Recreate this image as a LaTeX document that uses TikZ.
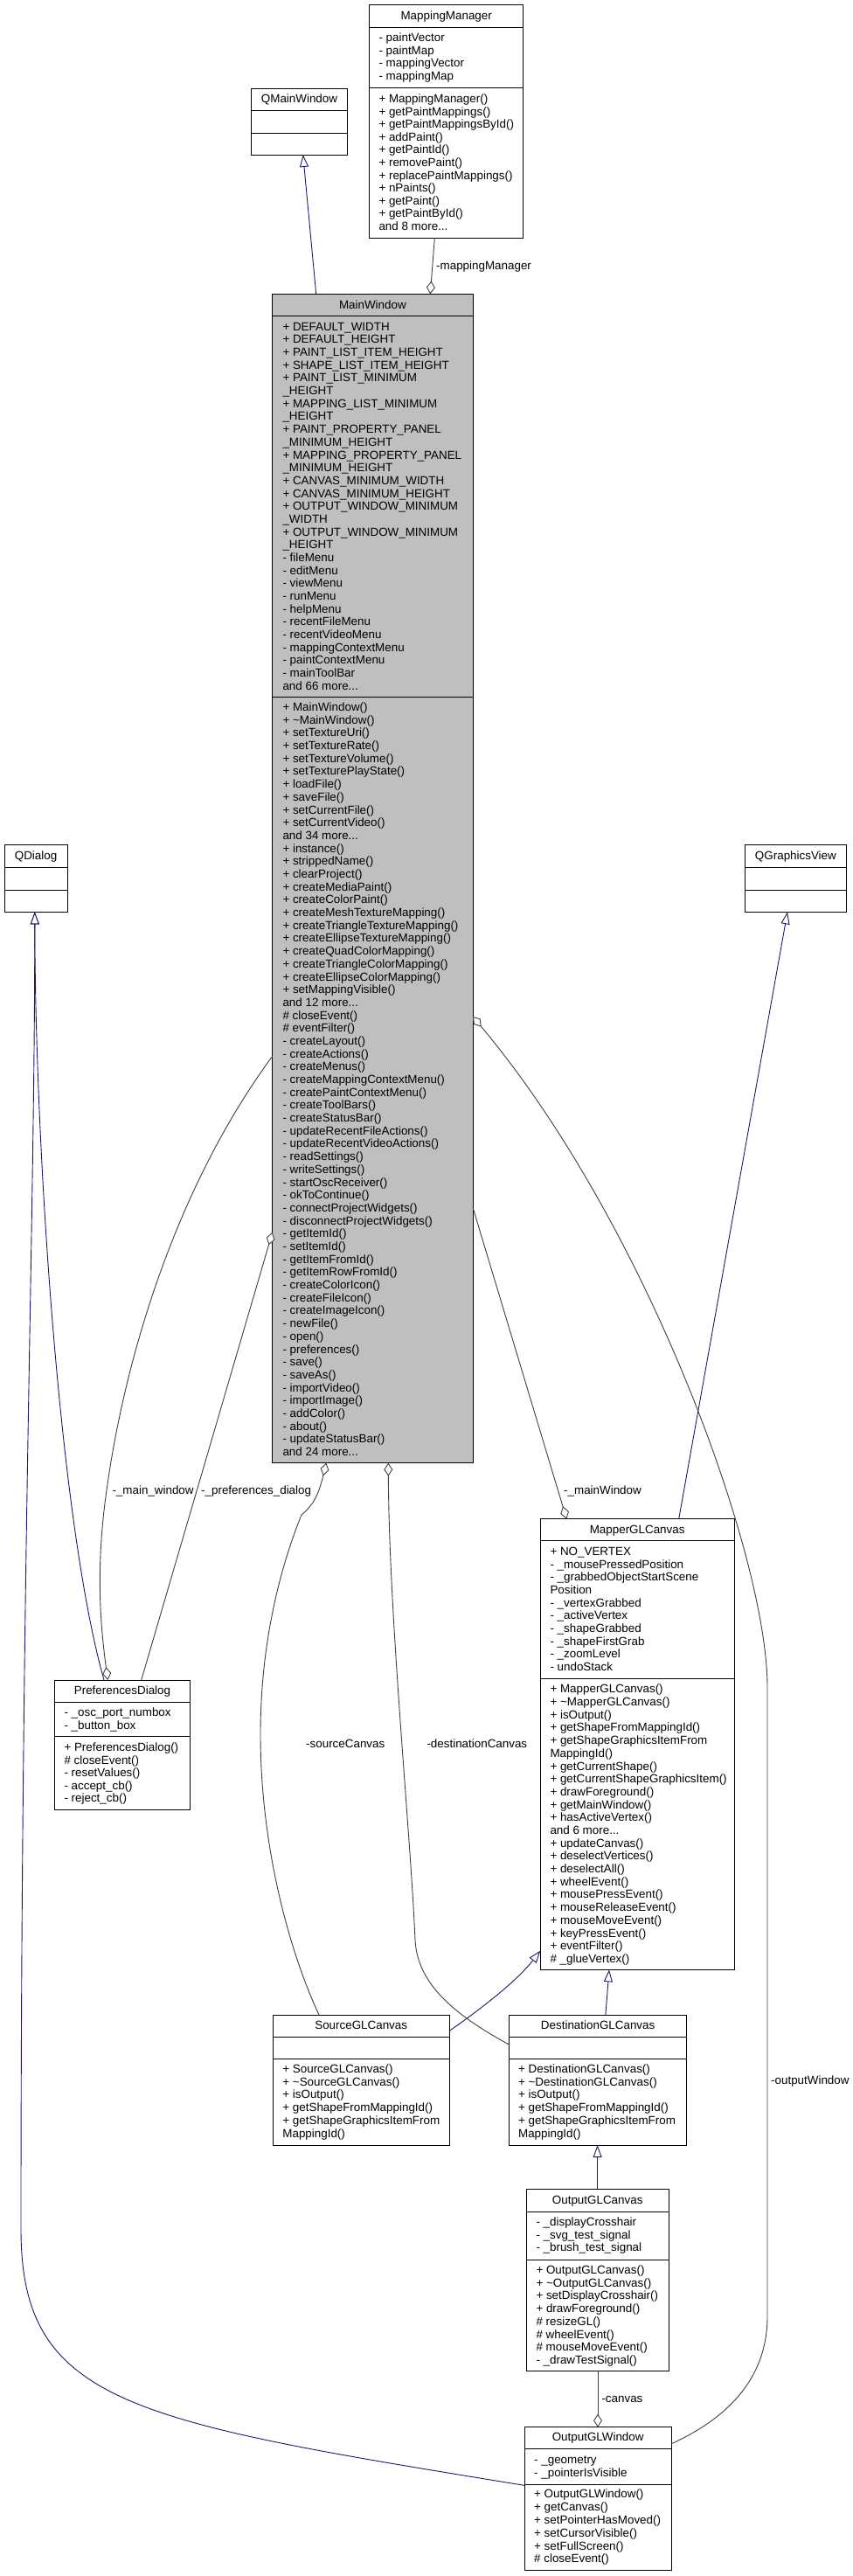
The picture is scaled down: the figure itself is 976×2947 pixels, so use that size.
\documentclass[tikz,border=0pt]{standalone}
\usepackage{fontspec}
\setmainfont{Liberation Sans}
\usetikzlibrary{arrows.meta}
\definecolor{aggc}{HTML}{404040}
\definecolor{inhc}{HTML}{191970}
\definecolor{mainfill}{HTML}{BFBFBF}
\newcommand{\memfont}{\fontsize{13.4}{15}\selectfont}
\newcommand{\mdots}{...}
\tikzset{
 cls/.style={draw=black, line width=1pt, fill=white, inner sep=0pt, outer sep=0pt},
 clsline/.style={draw=black, line width=1pt},
 ttl/.style={anchor=base, inner sep=0pt, font=\memfont},
 mem/.style={anchor=base west, inner sep=0pt, font=\memfont},
 lbl/.style={anchor=base west, inner sep=0pt, font=\memfont},
 agg/.style={draw=aggc, line width=0.9pt, -{Diamond[fill=white, length=15pt, width=10pt]}},
 inh/.style={draw=inhc, line width=0.9pt, -{Triangle[fill=white, length=14pt, width=10pt]}},
}
\newcommand{\umlbox}[8]{%
 \node[cls,#8, minimum width={#4-#2}, minimum height={#7-#3}, anchor=north west] (#1) at (#2,#3) {};
 \draw[clsline] ([yshift={#3-#5}]#1.north west) -- ([yshift={#3-#5}]#1.north east);
 \draw[clsline] ([yshift={#3-#6}]#1.north west) -- ([yshift={#3-#6}]#1.north east);}
\newcommand{\mlist}[5]{\foreach \mitem [count=\mi from 0] in {#5}{\node[mem] (#1-\mi) at (#2,#3+\mi*#4) {\mitem};}}
\begin{document}
\begin{tikzpicture}[x=1pt,y=-1pt]
\fill[white] (0,0) rectangle (976,2947);
\useasboundingbox (0,0) rectangle (976,2947);

% ---------- boxes ----------
\umlbox{mm}{422.7}{5.7}{598.7}{31.7}{100.3}{272.3}{}
\node[ttl] (mm-t) at (510.7,22.5) {MappingManager};
\mlist{mm-a}{433.3}{47.3}{14.75}{- paintVector, - paintMap, - mappingVector, - mappingMap}
\mlist{mm-o}{433.3}{117.6}{14.57}{+ MappingManager(), + getPaintMappings(), + getPaintMappingsById(), + addPaint(), + getPaintId(), + removePaint(), + replacePaintMappings(), + nPaints(), + getPaint(), + getPaintById(), and 8 more\mdots}

\umlbox{qmw}{287.3}{101.3}{397.7}{126.7}{152}{177}{}
\node[ttl] (qmw-t) at (342.5,117.3) {QMainWindow};

\umlbox{mw}{311.7}{336.4}{541}{361.4}{797.9}{1673.7}{fill=mainfill}
\node[ttl] (mw-t) at (426.35,353.2) {MainWindow};
\mlist{mw-a}{323.3}{378.2}{14.68}{%
+ DEFAULT\_WIDTH,
+ DEFAULT\_HEIGHT,
+ PAINT\_LIST\_ITEM\_HEIGHT,
+ SHAPE\_LIST\_ITEM\_HEIGHT,
+ PAINT\_LIST\_MINIMUM,
\_HEIGHT,
+ MAPPING\_LIST\_MINIMUM,
\_HEIGHT,
+ PAINT\_PROPERTY\_PANEL,
\_MINIMUM\_HEIGHT,
+ MAPPING\_PROPERTY\_PANEL,
\_MINIMUM\_HEIGHT,
+ CANVAS\_MINIMUM\_WIDTH,
+ CANVAS\_MINIMUM\_HEIGHT,
+ OUTPUT\_WINDOW\_MINIMUM,
\_WIDTH,
+ OUTPUT\_WINDOW\_MINIMUM,
\_HEIGHT,
- fileMenu,
- editMenu,
- viewMenu,
- runMenu,
- helpMenu,
- recentFileMenu,
- recentVideoMenu,
- mappingContextMenu,
- paintContextMenu,
- mainToolBar,
and 66 more\mdots}
\mlist{mw-o}{323.3}{813.5}{14.69}{%
+ MainWindow(),
+ \textasciitilde{}MainWindow(),
+ setTextureUri(),
+ setTextureRate(),
+ setTextureVolume(),
+ setTexturePlayState(),
+ loadFile(),
+ saveFile(),
+ setCurrentFile(),
+ setCurrentVideo(),
and 34 more\mdots,
+ instance(),
+ strippedName(),
+ clearProject(),
+ createMediaPaint(),
+ createColorPaint(),
+ createMeshTextureMapping(),
+ createTriangleTextureMapping(),
+ createEllipseTextureMapping(),
+ createQuadColorMapping(),
+ createTriangleColorMapping(),
+ createEllipseColorMapping(),
+ setMappingVisible(),
and 12 more\mdots,
\# closeEvent(),
\# eventFilter(),
- createLayout(),
- createActions(),
- createMenus(),
- createMappingContextMenu(),
- createPaintContextMenu(),
- createToolBars(),
- createStatusBar(),
- updateRecentFileActions(),
- updateRecentVideoActions(),
- readSettings(),
- writeSettings(),
- startOscReceiver(),
- okToContinue(),
- connectProjectWidgets(),
- disconnectProjectWidgets(),
- getItemId(),
- setItemId(),
- getItemFromId(),
- getItemRowFromId(),
- createColorIcon(),
- createFileIcon(),
- createImageIcon(),
- newFile(),
- open(),
- preferences(),
- save(),
- saveAs(),
- importVideo(),
- importImage(),
- addColor(),
- about(),
- updateStatusBar(),
and 24 more\mdots}

\umlbox{qd}{5}{966.7}{77.2}{992.7}{1018}{1043.3}{}
\node[ttl] (qd-t) at (41.1,983.6) {QDialog};

\umlbox{qgv}{852.5}{966.7}{968.3}{992.7}{1018}{1043.3}{}
\node[ttl] (qgv-t) at (910.4,983.6) {QGraphicsView};

\umlbox{pd}{62.7}{1922}{217.3}{1947.4}{1986.7}{2070.3}{}
\node[ttl] (pd-t) at (140,1938.7) {PreferencesDialog};
\mlist{pd-a}{73.3}{1963.6}{14.5}{- \_osc\_port\_numbox, - \_button\_box}
\mlist{pd-o}{73.3}{2003.6}{14.5}{+ PreferencesDialog(), \# closeEvent(), - resetValues(), - accept\_cb(), - reject\_cb()}

\umlbox{mgc}{618.3}{1737.7}{840}{1762.7}{1920.7}{2253.3}{}
\node[ttl] (mgc-t) at (729.15,1754.6) {MapperGLCanvas};
\mlist{mgc-a}{629.3}{1779.6}{14.63}{%
+ NO\_VERTEX,
- \_mousePressedPosition,
- \_grabbedObjectStartScene,
Position,
- \_vertexGrabbed,
- \_activeVertex,
- \_shapeGrabbed,
- \_shapeFirstGrab,
- \_zoomLevel,
- undoStack}
\mlist{mgc-o}{629.3}{1936.9}{14.69}{%
+ MapperGLCanvas(),
+ \textasciitilde{}MapperGLCanvas(),
+ isOutput(),
+ getShapeFromMappingId(),
+ getShapeGraphicsItemFrom,
MappingId(),
+ getCurrentShape(),
+ getCurrentShapeGraphicsItem(),
+ drawForeground(),
+ getMainWindow(),
+ hasActiveVertex(),
and 6 more\mdots,
+ updateCanvas(),
+ deselectVertices(),
+ deselectAll(),
+ wheelEvent(),
+ mousePressEvent(),
+ mouseReleaseEvent(),
+ mouseMoveEvent(),
+ keyPressEvent(),
+ eventFilter(),
\# \_glueVertex()}

\umlbox{sgc}{312.1}{2305}{514.3}{2330}{2355.3}{2454}{}
\node[ttl] (sgc-t) at (413.2,2321.3) {SourceGLCanvas};
\mlist{sgc-o}{323.2}{2371.3}{14.8}{+ SourceGLCanvas(), + \textasciitilde{}SourceGLCanvas(), + isOutput(), + getShapeFromMappingId(), + getShapeGraphicsItemFrom, MappingId()}

\umlbox{dgc}{582.9}{2305}{785.4}{2330}{2355.3}{2454}{}
\node[ttl] (dgc-t) at (684.15,2321.3) {DestinationGLCanvas};
\mlist{dgc-o}{592.9}{2371.3}{14.8}{+ DestinationGLCanvas(), + \textasciitilde{}DestinationGLCanvas(), + isOutput(), + getShapeFromMappingId(), + getShapeGraphicsItemFrom, MappingId()}

\umlbox{ogc}{602.4}{2504.3}{765}{2530}{2585}{2712.7}{}
\node[ttl] (ogc-t) at (683.7,2521.3) {OutputGLCanvas};
\mlist{ogc-a}{613.3}{2546.9}{14.5}{- \_displayCrosshair, - \_svg\_test\_signal, - \_brush\_test\_signal}
\mlist{ogc-o}{613.3}{2601.3}{14.76}{+ OutputGLCanvas(), + \textasciitilde{}OutputGLCanvas(), + setDisplayCrosshair(), + drawForeground(), \# resizeGL(), \# wheelEvent(), \# mouseMoveEvent(), - \_drawTestSignal()}

\umlbox{ogw}{600}{2776.7}{768.3}{2801.7}{2842.7}{2940}{}
\node[ttl] (ogw-t) at (684.15,2792.9) {OutputGLWindow};
\mlist{ogw-a}{611}{2818.6}{14.7}{- \_geometry, - \_pointerIsVisible}
\mlist{ogw-o}{611}{2857.9}{14.8}{+ OutputGLWindow(), + getCanvas(), + setPointerHasMoved(), + setCursorVisible(), + setFullScreen(), \# closeEvent()}

% ---------- inheritance ----------
\draw[inh] ([xshift=50]mw.north west) -- ([xshift=59.4]qmw.south west);
\draw[inh] ([xshift=56.3]pd.north west) .. controls (67,1738) and (40,1300) .. ([xshift=34.8]qd.south west);
\draw[inh] ([yshift=-66.6]ogw.north west) .. controls (150,2770) and (24,2750) .. (24,2550) .. controls (24,1800) and (39.8,1400) .. ([xshift=34.8]qd.south west);
\draw[inh] ([xshift=158.4]mgc.north west) -- ([xshift=48.5]qgv.south west);
\draw[inh] ([yshift=-18.3]sgc.north east) .. controls (545,2302) and (590,2268) .. ([yshift=21.6]mgc.south west);
\draw[inh] ([xshift=110]dgc.north west) -- ([xshift=78.7]mgc.south west);
\draw[inh] ([xshift=81.2]ogc.north west) -- ([xshift=100.7]dgc.south west);

% ---------- aggregation ----------
\draw[agg] ([xshift=74.6]mm.south west) -- ([xshift=180.6]mw.north west);
\draw[agg] ([xshift=99]pd.north west) -- ([yshift=263.9]mw.south west);
\draw[agg] ([yshift=-871.9]mw.north west) .. controls (200,1360) and (140,1560) .. (120,1720) .. controls (110,1800) and (115,1860) .. ([xshift=60.6]pd.north west);
\draw[agg] ([xshift=52.9]sgc.north west) .. controls (330,2230) and (298,2110) .. (298,1984) .. controls (298,1860) and (330,1770) .. (345,1733) .. controls (358,1722) and (364,1712) .. ([xshift=61.6]mw.south west);
\draw[agg] ([yshift=-34.3]dgc.north west) .. controls (520,2305) and (478,2270) .. (475,2220) .. controls (470,2100) and (445,1850) .. ([xshift=132.6]mw.south west);
\draw[agg] ([yshift=-1044.9]mw.north east) -- ([xshift=30]mgc.north west);
\draw[agg] ([yshift=-19]ogw.north east) .. controls (820,2772) and (878,2730) .. (878,2650) -- (878,1930) .. controls (878,1780) and (740,1400) .. ([yshift=-826.6]mw.north east);
\draw[agg] ([xshift=81.6]ogc.south west) -- ([xshift=84]ogw.north west);

% ---------- labels ----------
\node[lbl] (l-mm) at (499,308.6) {-mappingManager};
\node[lbl] (l-mw1) at (128.3,1709) {-\_main\_window};
\node[lbl] (l-pd) at (230,1709) {-\_preferences\_dialog};
\node[lbl] (l-sc) at (350,1999.4) {-sourceCanvas};
\node[lbl] (l-dc) at (488.3,1999.4) {-destinationCanvas};
\node[lbl] (l-mw2) at (645,1709.4) {-\_mainWindow};
\node[lbl] (l-ow) at (882,2384) {-outputWindow};
\node[lbl] (l-cv) at (688.3,2748) {-canvas};
\end{tikzpicture}
\end{document}
